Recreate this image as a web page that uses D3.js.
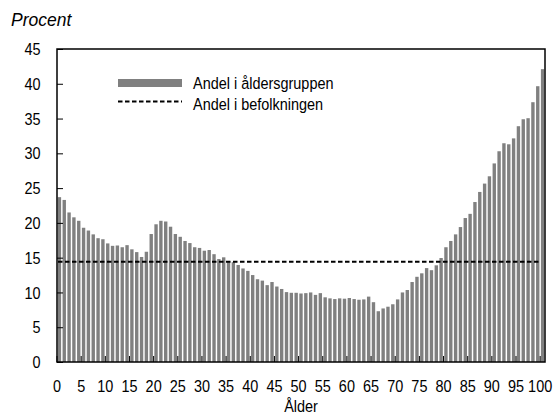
<!DOCTYPE html>
<html>
<head>
<meta charset="utf-8">
<script src="https://cdn.jsdelivr.net/npm/d3@7"></script>
<style>
   body { margin: 0; background: #fff; }
   text { font-family: "Liberation Sans", Arial, sans-serif; fill: #000; }
   .unit { font-style: italic; }
</style>
</head>
<body>
<svg id="chart" width="555" height="416"></svg>
<script>
/*global d3*/
var ages = d3.range(0, 101),
   shareInAgeGroup = [
      23.7, 23.3, 21.5, 20.8, 20.3, 19.3, 18.9, 18.35, 17.8, 17.65,
      17.05, 16.7, 16.75, 16.5, 16.8, 16.2, 15.8, 15.1, 15.85, 18.4,
      19.8, 20.3, 20.2, 19.45, 18.4, 18.0, 17.4, 17.1, 16.5, 16.4,
      16.0, 16.1, 15.5, 14.8, 15.05, 14.45, 14.35, 13.95, 13.45, 13.1,
      12.5, 11.9, 11.7, 11.05, 11.5, 10.85, 10.5, 10.05, 9.95, 9.95,
      9.85, 9.9, 10.0, 9.65, 9.9, 9.3, 9.15, 9.05, 9.15, 9.1,
      9.2, 9.05, 8.95, 9.0, 9.4, 8.6, 7.3, 7.7, 7.95, 8.3,
      9.0, 10.0, 10.35, 11.5, 12.25, 12.75, 13.5, 13.2, 13.9, 14.95,
      16.5, 17.4, 18.35, 19.4, 20.7, 21.3, 23.0, 24.45, 25.65, 26.7,
      28.55, 30.3, 31.45, 31.3, 32.15, 33.9, 34.9, 35.05, 37.35, 39.65,
      42.1
   ],
   shareInPopulation = 14.4,
   yTicks = [0, 5, 10, 15, 20, 25, 30, 35, 40, 45],
   xTicks = d3.range(0, 101, 5),
   legendLabels = ["Andel i åldersgruppen", "Andel i befolkningen"];

(function () {
   "use strict";
   var svg = d3.select("#chart"),
      left = 57,
      right = 545,
      top = 49,
      bottom = 362,
      x = d3.scaleBand().domain(ages).range([left, right]).paddingInner(0.3).paddingOuter(0.15),
      y = d3.scaleLinear().domain([0, 45]).range([bottom, top]),
      step = x.step(),
      tickX = function (a) { return left + a * step; },
      legend;

   //condensed look: squeeze the text horizontally
   function narrow(xPos, yPos) {
      return function (d, i) {
         var px = typeof xPos === "function" ? xPos(d, i) : xPos,
            py = typeof yPos === "function" ? yPos(d, i) : yPos;
         return "translate(" + px + "," + py + ") scale(0.85,1)";
      };
   }

   //bars
   svg.append("g").selectAll("rect")
      .data(shareInAgeGroup)
      .enter().append("rect")
      .attr("x", function (d, i) { return x(ages[i]); })
      .attr("width", x.bandwidth())
      .attr("y", function (d) { return y(d); })
      .attr("height", function (d) { return y(0) - y(d); })
      .attr("fill", "#808080");

   //population share line
   svg.append("line")
      .attr("x1", tickX(0) + 1)
      .attr("x2", tickX(100))
      .attr("y1", y(shareInPopulation))
      .attr("y2", y(shareInPopulation))
      .attr("stroke", "#000")
      .attr("stroke-width", 2)
      .attr("stroke-dasharray", "4.5,2.5");

   //y axis, ticks pointing inwards
   svg.append("g")
      .attr("transform", "translate(" + left + ",0)")
      .call(d3.axisRight(y).tickValues(yTicks).tickSize(6).tickFormat(""))
      .call(function (g) { g.select(".domain").remove(); });

   svg.append("g").selectAll("text")
      .data(yTicks)
      .enter().append("text")
      .attr("transform", narrow(40.5, function (d) { return y(d); }))
      .attr("dy", "0.36em")
      .attr("text-anchor", "end")
      .attr("font-size", 17)
      .text(function (d) { return d; });

   //x axis, ticks pointing up
   svg.append("g").selectAll("line")
      .data(xTicks)
      .enter().append("line")
      .attr("x1", tickX)
      .attr("x2", tickX)
      .attr("y1", bottom)
      .attr("y2", bottom - 6)
      .attr("stroke", "#000");

   svg.append("g").selectAll("text")
      .data(xTicks)
      .enter().append("text")
      .attr("transform", narrow(tickX, 391.5))
      .attr("text-anchor", "middle")
      .attr("font-size", 17)
      .text(function (d) { return d; });

   //frame
   svg.append("rect")
      .attr("x", left)
      .attr("y", top)
      .attr("width", right - left)
      .attr("height", bottom - top)
      .attr("fill", "none")
      .attr("stroke", "#000")
      .attr("stroke-width", 1.5);

   //titles
   svg.append("text")
      .attr("class", "unit")
      .attr("x", 11)
      .attr("y", 26)
      .attr("font-size", 17.5)
      .text("Procent");

   svg.append("text")
      .attr("transform", narrow((left + right) / 2, 411.5))
      .attr("text-anchor", "middle")
      .attr("font-size", 17)
      .text("Ålder");

   //legend
   legend = svg.append("g");
   legend.append("rect")
      .attr("x", 118)
      .attr("y", 79)
      .attr("width", 64)
      .attr("height", 8)
      .attr("fill", "#808080");
   legend.append("line")
      .attr("x1", 118)
      .attr("x2", 182)
      .attr("y1", 101.5)
      .attr("y2", 101.5)
      .attr("stroke", "#000")
      .attr("stroke-width", 2)
      .attr("stroke-dasharray", "4.5,2.5");
   legend.selectAll("text.label")
      .data(legendLabels)
      .enter().append("text")
      .attr("class", "label")
      .attr("transform", narrow(193, function (d, i) { return 88.5 + i * 21; }))
      .attr("font-size", 17)
      .text(function (d) { return d; });
}());
</script>
</body>
</html>
